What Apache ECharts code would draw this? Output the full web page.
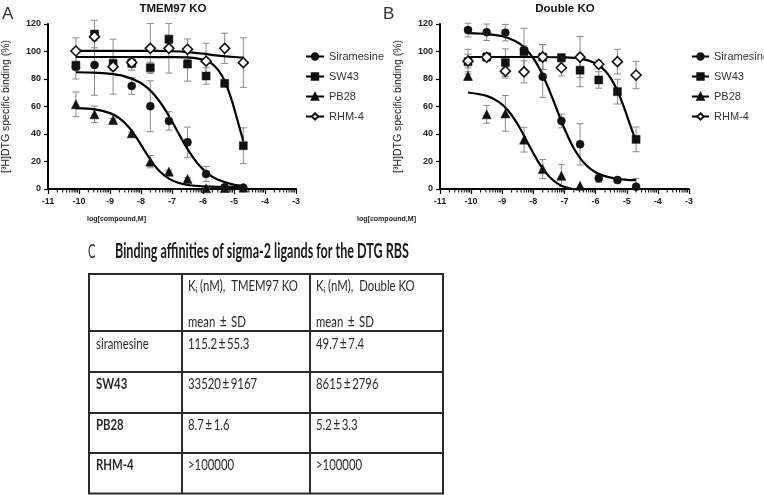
<!DOCTYPE html>
<html><head><meta charset="utf-8">
<script src="https://cdn.jsdelivr.net/npm/echarts@6/dist/echarts.min.js"></script>
<style>html,body{margin:0;padding:0;background:#fff}#c{width:764px;height:495px}</style>
</head><body><div id="c"></div>
<script>
// ---------- DATA ----------
const compounds = ['Siramesine', 'SW43', 'PB28', 'RHM-4'];
const conc = [-10.1, -9.5, -8.9, -8.3, -7.7, -7.1, -6.5, -5.9, -5.3, -4.7];
const xTicks = [-11, -10, -9, -8, -7, -6, -5, -4, -3];
const yTicks = [0, 20, 40, 60, 80, 100, 120];
const minorOffsets = [0.301, 0.477, 0.602, 0.699, 0.778, 0.845, 0.903, 0.954];

// Panel A: TMEM97 KO (mean, SD)
const sirA   = [89, 90.2, 89, 74.9, 60.2, 49.5, 34, 10.9, 1.2, 1];
const sirAErr= [3, 22, 3, 6, 18.5, 6.7, 11, 5.5, 1, 1];
const swA    = [90, 112.7, 91.4, 91.4, 88.2, 108.9, 90.9, 82.2, 76.8, 31.5];
const swAErr = [10, 10, 4, 5, 4, 3, 12.5, 6, 1, 13];
const pbA    = [61.6, 54.3, 50.2, 40.5, 19.9, 12.6, 7.3, 0.5, 0.8, 1];
const pbAErr = [9, 6, 1, 1, 4.5, 1, 1, 0.5, 0.5, 0.5];
const rhmA   = [100.4, 110.8, 89, 92, 102.3, 102.3, 101.6, 93, 102.3, 91.9];
const rhmAErr= [9.5, 3, 20, 3, 18, 18, 7.5, 13, 11, 18];

// Panel A fitted curves
const sirAFitX = [-10.1, -9.55, -9.05, -8.55, -8.05, -7.8, -7.55, -7.3, -7.05, -6.8, -6.55, -6.3, -6.05, -5.8, -5.55, -5.05, -4.7];
const sirAFitY = [84.9, 84.6, 83.9, 82.1, 77.7, 73.7, 68.0, 60.4, 51.1, 40.9, 31.0, 22.3, 15.5, 10.5, 7.1, 3.4, 2.2];
const swAFitX  = [-10.1, -8, -7, -6.5, -6.0, -5.75, -5.5, -5.3, -5.1, -4.95, -4.8, -4.7];
const swAFitY  = [96, 96, 95.9, 95.7, 94.1, 91.7, 86.3, 78.5, 66.4, 55.0, 42.8, 34.9];
const pbAFitX  = [-10.1, -9.5, -9.0, -8.7, -8.4, -8.2, -8.0, -7.8, -7.6, -7.4, -7.1, -6.8, -6.5, -6.0, -5.0, -4.7];
const pbAFitY  = [58.8, 57.9, 55.2, 51.5, 45.1, 39.1, 32.1, 24.9, 18.3, 12.9, 7.5, 4.5, 2.9, 1.9, 1.5, 1.5];
const rhmAFitX = [-10.1, -7.5, -7.0, -6.5, -6.0, -5.5, -5.0, -4.7];
const rhmAFitY = [100.5, 100.4, 100.2, 99.6, 98.4, 97.0, 96.0, 95.6];

// Panel B: Double KO (mean, SD)
const sirB   = [115.6, 114, 113.7, 101, 81.7, 49.5, 32.5, 7.8, 6.5, 1.7];
const sirBErr= [5, 6, 6, 3, 15, 5, 15, 3, 2, 6];
const swB    = [92.6, 96, 91.9, 99.9, 95.9, 95.4, 86.4, 79.3, 70.8, 36.1];
const swBErr = [9, 3, 10, 17, 9, 3, 12, 6, 9, 9];
const pbB    = [82.2, 54.3, 55, 35.9, 14.5, 9.7, 2.4, null, null, null];
const pbBErr = [3, 6.5, 13, 9, 7, 8, 0, null, null, null];
const rhmB   = [93, 95.8, 85.7, 85.2, 96, 88.2, 95.9, 90.7, 92.6, 82.9];
const rhmBErr= [5, 3, 5, 8, 9, 6, 15, 3, 9, 10];

const sirBFitX = [-10.1, -9.5, -9.0, -8.6, -8.3, -8.0, -7.8, -7.6, -7.4, -7.2, -7.0, -6.8, -6.6, -6.4, -6.1, -5.8, -5.4, -5.0, -4.7];
const sirBFitY = [113.3, 112.7, 111.1, 107.8, 103.1, 95.1, 87.4, 77.8, 66.8, 55.1, 43.8, 33.9, 25.8, 19.7, 13.6, 10.1, 7.7, 6.7, 6.4];
const swBFitX  = [-10.1, -8.0, -7.0, -6.5, -6.0, -5.7, -5.5, -5.3, -5.1, -4.9, -4.7];
const swBFitY  = [96, 96, 95.7, 94.8, 91.4, 86.1, 80.1, 71.4, 60.1, 47.2, 34.5];
const pbBFitX  = [-10.1, -9.5, -9.1, -8.8, -8.5, -8.3, -8.1, -7.9, -7.7, -7.5, -7.3, -7.1, -6.9, -6.75];
const pbBFitY  = [70.2, 67.7, 63.2, 56.7, 46.9, 38.7, 30.1, 21.9, 14.8, 9.2, 5.1, 2.4, 0.8, 0];

// Table C
const tableTitle = 'Binding affinities of sigma-2 ligands for the DTG RBS';
const tableHead1 = ['Kᵢ (nM),  TMEM97 KO', 'Kᵢ (nM),  Double KO'];
const tableHead2 = ['mean ± SD', 'mean ± SD'];
const tableRows  = ['siramesine', 'SW43', 'PB28', 'RHM-4'];
const tableBold  = [false, true, true, true];
const kiTMEM     = ['115.2±55.3', '33520±9167', '8.7±1.6', '>100000'];
const kiDouble   = ['49.7±7.4', '8615±2796', '5.2±3.3', '>100000'];

// ---------- STYLE / LAYOUT ----------
const FONT = 'Liberation Sans';
const marker = {
  'Siramesine': {symbol: 'circle', size: 8, fill: '#111'},
  'SW43': {symbol: 'rect', size: 8, fill: '#111'},
  'PB28': {symbol: 'triangle', size: 9, fill: '#111'},
  'RHM-4': {symbol: 'diamond', size: 10, fill: '#fff'}
};
const panels = [
  {vals: [sirA, swA, pbA, rhmA], errs: [sirAErr, swAErr, pbAErr, rhmAErr],
   fits: [[sirAFitX, sirAFitY], [swAFitX, swAFitY], [pbAFitX, pbAFitY], [rhmAFitX, rhmAFitY]]},
  {vals: [sirB, swB, pbB, rhmB], errs: [sirBErr, swBErr, pbBErr, rhmBErr],
   fits: [[sirBFitX, sirBFitY], [swBFitX, swBFitY], [pbBFitX, pbBFitY], null]}
];

function xAxisCfg(g) {
  return {type: 'value', gridIndex: g, min: -11, max: -3, interval: 1,
    axisLine: {onZero: false, lineStyle: {color: '#000', width: 2}},
    axisTick: {length: 5, lineStyle: {color: '#000', width: 1.2}},
    axisLabel: {color: '#222', fontSize: 9, fontWeight: 'bold', fontFamily: FONT, margin: 8,
      formatter: v => xTicks.includes(v) ? String(v) : ''},
    splitLine: {show: false}};
}
function yAxisCfg(g) {
  return {type: 'value', gridIndex: g, min: yTicks[0], max: yTicks[yTicks.length - 1], interval: 20,
    axisLine: {show: true, lineStyle: {color: '#000', width: 2}},
    axisTick: {show: true, length: 4, lineStyle: {color: '#000', width: 1.2}},
    axisLabel: {color: '#222', fontSize: 9, fontWeight: 'bold', fontFamily: FONT, margin: 7},
    splitLine: {show: false},
    name: '[³H]DTG specific binding (%)', nameLocation: 'middle', nameGap: 36,
    nameTextStyle: {fontSize: 10.5, color: '#222', fontFamily: FONT}};
}

function errRender(params, api) {
  const x = api.value(0), y = api.value(1), e = api.value(2);
  if (!(e > 0)) return null;
  const t = api.coord([x, y + e]);
  const b = api.coord([x, Math.max(0, y - e)]);
  const w = 3.5, st = {stroke: '#8a8a8a', lineWidth: 1};
  return {type: 'group', children: [
    {type: 'line', shape: {x1: t[0], y1: t[1], x2: b[0], y2: b[1]}, style: st},
    {type: 'line', shape: {x1: t[0] - w, y1: t[1], x2: t[0] + w, y2: t[1]}, style: st},
    {type: 'line', shape: {x1: b[0] - w, y1: b[1], x2: b[0] + w, y2: b[1]}, style: st}
  ]};
}
function minorRender(params, api) {
  const p = api.coord([api.value(0), 0]);
  return {type: 'line', shape: {x1: p[0], y1: p[1] + 1, x2: p[0], y2: p[1] + 3.5},
    style: {stroke: '#000', lineWidth: 1}};
}

const minorData = [];
xTicks.slice(0, -1).forEach(d => minorOffsets.forEach(o => minorData.push([d + o, 0])));

const series = [];
panels.forEach((p, g) => {
  compounds.forEach((name, k) => {
    const ys = p.vals[k], es = p.errs[k];
    const ebData = conc.map((x, i) => [x, ys[i], es[i]]).filter(d => d[1] != null);
    series.push({type: 'custom', name: name + ' err', xAxisIndex: g, yAxisIndex: g,
      renderItem: errRender, data: ebData, encode: {x: 0, y: 1}, clip: false, z: 1, silent: true});
    if (p.fits[k]) {
      const [fx, fy] = p.fits[k];
      series.push({type: 'line', name: name + ' fit', xAxisIndex: g, yAxisIndex: g,
        data: fx.map((x, i) => [x, fy[i]]), smooth: 0.3, showSymbol: false, symbol: 'none',
        lineStyle: {color: '#000', width: 2.2}, z: 2, silent: true});
    }
  });
  compounds.forEach((name, k) => {
    const ys = p.vals[k], m = marker[name];
    series.push({type: 'line', name: name, xAxisIndex: g, yAxisIndex: g,
      data: conc.map((x, i) => [x, ys[i]]).filter(d => d[1] != null),
      symbol: m.symbol, symbolSize: m.size, showSymbol: true,
      itemStyle: {color: m.fill, borderColor: '#111', borderWidth: name === 'RHM-4' ? 1.6 : 0.5},
      lineStyle: {color: '#000', width: 2, opacity: 0}, z: 3, silent: true});
  });
  series.push({type: 'custom', name: 'minor' + g, xAxisIndex: g, yAxisIndex: g,
    renderItem: minorRender, data: minorData, encode: {x: 0, y: 1}, clip: false, z: 5, silent: true});
});

function legendCfg(left, w) {
  return {left: left, top: 46, orient: 'vertical', data: compounds, selectedMode: false,
    itemWidth: w, itemHeight: 8, itemGap: 9,
    textStyle: {fontSize: 11, color: '#333', fontFamily: FONT},
    lineStyle: {opacity: 1, width: 2, color: '#000'}};
}

// text width helper (layout only)
const mctx = document.createElement('canvas').getContext('2d');
function fitScale(text, font, target) { mctx.font = font; return target / mctx.measureText(text).width; }

const graphic = [];
function txt(text, x, y, font, opts) {
  opts = opts || {};
  const style = {text: text, font: font, fill: opts.fill || '#222',
      textAlign: opts.align || 'left', align: opts.align || 'left',
      textVerticalAlign: 'middle', verticalAlign: 'middle'};
  if (opts.rich) style.rich = opts.rich;
  graphic.push({type: 'text', x: x, y: y, scaleX: opts.scaleX || 1, silent: true, style: style});
}
txt('A', 2, 14, 'normal 17px ' + FONT, {fill: '#333'});
txt('B', 383, 14, 'normal 17px ' + FONT, {fill: '#333'});
txt('TMEM97 KO', 173, 9, 'bold 11.5px ' + FONT, {align: 'center', fill: '#111'});
txt('Double KO', 565, 9, 'bold 11.5px ' + FONT, {align: 'center', fill: '#111'});
const xName = 'log[compound,M]';
const xnFont = 'bold 8px ' + FONT;
txt(xName, 87, 219, xnFont, {scaleX: fitScale(xName, xnFont, 59), fill: '#222'});
txt(xName, 357, 219, xnFont, {scaleX: fitScale(xName, xnFont, 59), fill: '#222'});

// Table C
const TF = 'Lato';
const cFont = 'normal 19px ' + TF;
txt('C', 88, 252, cFont, {scaleX: fitScale('C', cFont, 7.5), fill: '#333'});
const ttFont = 'bold 20px ' + TF;
txt(tableTitle, 115, 252, ttFont, {scaleX: fitScale(tableTitle, ttFont, 294), fill: '#1a1a1a'});
const cellFont = 'normal 16px ' + TF, cellBold = 'bold 16px ' + TF, SX = 0.71;
const pmRich = {pm: {fontSize: 17, fontFamily: TF, padding: [0, 2, 0, 2], fill: '#2a2a2a', color: '#2a2a2a'}};
const pmText = s => s.replace('±', '{pm|±}');
const colX = [96, 188, 316];
const cellCol = '#2a2a2a';
txt(tableHead1[0], colX[1], 286, cellFont, {scaleX: SX, fill: cellCol});
txt(tableHead1[1], colX[2], 286, cellFont, {scaleX: SX, fill: cellCol});
txt(pmText(tableHead2[0]), colX[1], 322, cellFont, {scaleX: SX, fill: cellCol, rich: pmRich});
txt(pmText(tableHead2[1]), colX[2], 322, cellFont, {scaleX: SX, fill: cellCol, rich: pmRich});
const rowY = [343.5, 384, 424.5, 465];
tableRows.forEach((r, i) => {
  txt(r, colX[0], rowY[i], tableBold[i] ? cellBold : cellFont, {scaleX: SX, fill: cellCol});
  txt(pmText(kiTMEM[i]), colX[1], rowY[i], cellFont, {scaleX: SX, fill: cellCol, rich: pmRich});
  txt(pmText(kiDouble[i]), colX[2], rowY[i], cellFont, {scaleX: SX, fill: cellCol, rich: pmRich});
});
const hLines = [274, 331, 372, 413, 453, 493.5];
const vLines = [89, 182, 310, 443];
const ls = {stroke: '#2a2a2a', lineWidth: 2};
hLines.forEach(y => graphic.push({type: 'line', silent: true, shape: {x1: vLines[0] - 1, y1: y, x2: vLines[3] + 1, y2: y}, style: ls}));
vLines.forEach(x => graphic.push({type: 'line', silent: true, shape: {x1: x, y1: hLines[0], x2: x, y2: hLines[5]}, style: ls}));

const option = {
  animation: false,
  backgroundColor: '#fff',
  grid: [
    {left: 48, top: 24, width: 248, height: 165},
    {left: 440, top: 24, width: 249, height: 165}
  ],
  xAxis: [xAxisCfg(0), xAxisCfg(1)],
  yAxis: [yAxisCfg(0), yAxisCfg(1)],
  legend: [legendCfg(300, 18), legendCfg(686, 17)],
  series: series,
  graphic: graphic
};
const chart = echarts.init(document.getElementById('c'), null, {renderer: 'canvas'});
chart.setOption(option);
</script></body></html>
